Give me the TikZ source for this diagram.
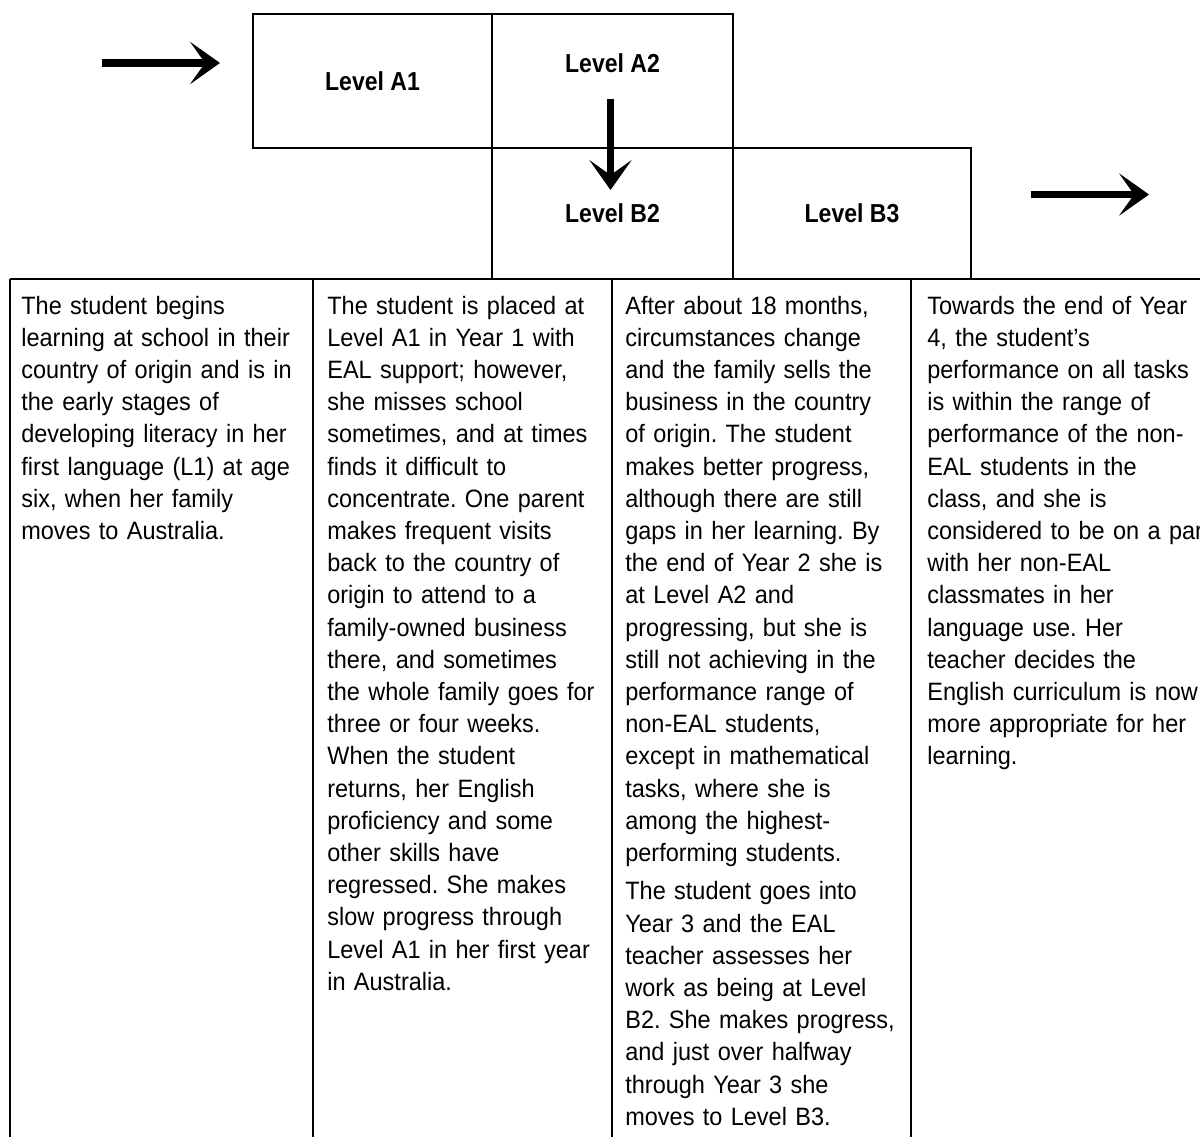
\documentclass[tikz,border=0pt]{standalone}
\usepackage{fontspec}
\setmainfont{Liberation Sans}[FakeStretch=0.935]
\newfontfamily\lvlfont{Liberation Sans}[FakeStretch=0.885]
\usepackage{tikz}
\usetikzlibrary{arrows.meta,calc}
\frenchspacing

\begin{document}
\begin{tikzpicture}[x=0.02cm,y=-0.02cm,
  rule/.style={line width=1.1pt},
  lvlbox/.style={draw,line width=1.1pt,inner sep=0pt,font=\lvlfont\bfseries\fontsize{14.8pt}{17pt}\selectfont},
  lvltext/.style={inner sep=0pt,font=\lvlfont\bfseries\fontsize{14.8pt}{17pt}\selectfont},
  coltext/.style={anchor=base west,inner sep=0pt,text width=7cm,align=left,font=\fontsize{14.3pt}{18.33pt}\selectfont},
  flow/.style={line width=4pt,-{Stealth[length=17pt,width=24pt,inset=8.5pt]}}]
\useasboundingbox (0,0) rectangle (1200,1137);

% level boxes
\node[lvlbox,minimum width=4.78cm,minimum height=2.68cm] (a1) at (372.5,81) {Level A1};
\node[lvlbox,minimum width=4.82cm,minimum height=2.68cm] (a2) at (612.5,81) {};
\node[lvltext] (a2lbl) at (612.5,63.5) {Level A2};
\node[lvlbox,minimum width=4.82cm,minimum height=2.62cm] (b2) at (612.5,213.5) {Level B2};
\node[lvlbox,minimum width=4.76cm,minimum height=2.62cm] (b3) at (852,213.5) {Level B3};

% arrows
\coordinate (inS) at (102,63);
\coordinate (inE) at (220,63);
\coordinate (outS) at (1031,194.5);
\coordinate (outE) at (1149,194.5);
\draw[flow] (inS) -- (inE);
\draw[flow] ($(a2lbl)+(-2,35.5)$) -- ($(b2)+(-2,-23.5)$);
\draw[flow] (outS) -- (outE);

% table
\draw[rule] (10,279) -- (1200,279);
\foreach \x in {10,313,612,911}
  \draw[rule] (\x,279) -- (\x,1137);

\node[coltext] (c1) at (21,314) {The student begins\\
learning at school in their\\
country of origin and is in\\
the early stages of\\
developing literacy in her\\
first language (L1) at age\\
six, when her family\\
moves to Australia.};

\node[coltext] (c2) at (327,314) {The student is placed at\\
Level A1 in Year 1 with\\
EAL support; however,\\
she misses school\\
sometimes, and at times\\
finds it difficult to\\
concentrate. One parent\\
makes frequent visits\\
back to the country of\\
origin to attend to a\\
family-owned business\\
there, and sometimes\\
the whole family goes for\\
three or four weeks.\\
When the student\\
returns, her English\\
proficiency and some\\
other skills have\\
regressed. She makes\\
slow progress through\\
Level A1 in her first year\\
in Australia.};

\node[coltext] (c3) at (625,314) {After about 18 months,\\
circumstances change\\
and the family sells the\\
business in the country\\
of origin. The student\\
makes better progress,\\
although there are still\\
gaps in her learning. By\\
the end of Year 2 she is\\
at Level A2 and\\
progressing, but she is\\
still not achieving in the\\
performance range of\\
non-EAL students,\\
except in mathematical\\
tasks, where she is\\
among the highest-\\
performing students.\\[3.5pt]
The student goes into\\
Year 3 and the EAL\\
teacher assesses her\\
work as being at Level\\
B2. She makes progress,\\
and just over halfway\\
through Year 3 she\\
moves to Level B3.};

\node[coltext] (c4) at (927,314) {Towards the end of Year\\
4, the student’s\\
performance on all tasks\\
is within the range of\\
performance of the non-\\
EAL students in the\\
class, and she is\\
considered to be on a par\\
with her non-EAL\\
classmates in her\\
language use. Her\\
teacher decides the\\
English curriculum is now\\
more appropriate for her\\
learning.};
\end{tikzpicture}
\end{document}
